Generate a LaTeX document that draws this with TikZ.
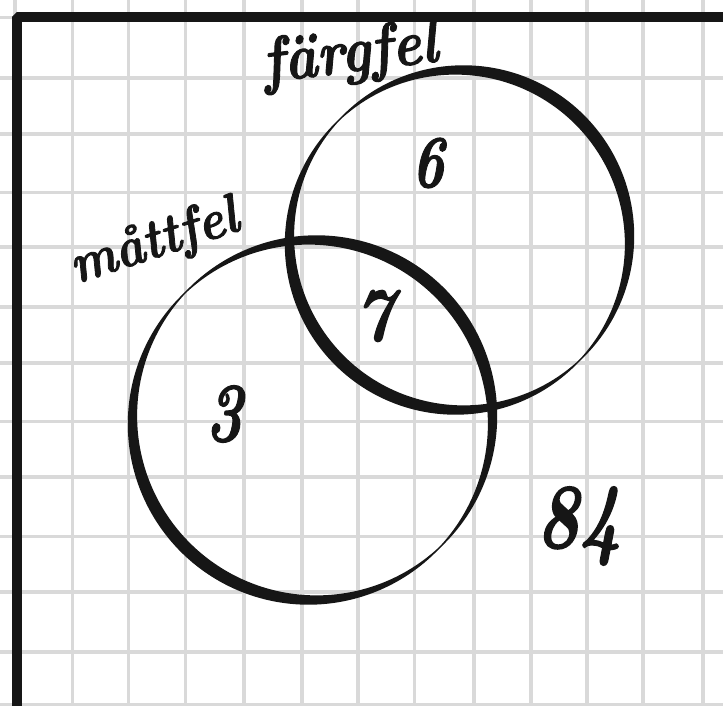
\documentclass[tikz,border=0pt]{standalone}
\usepackage{fontspec}
\newfontfamily\handfont[FakeBold=1.6]{lmroman10-bolditalic.otf}
\definecolor{ink}{HTML}{161616}
\definecolor{gridgray}{HTML}{D9D9D9}
\tikzset{
  gridline/.style={draw=gridgray, line width=3.2pt},
  border/.style={draw=ink, line width=9.5pt, line join=bevel},
  hand/.style={text=ink, inner sep=0pt},
}
\newcommand{\penwidth}[1]{(1.2+11.5*abs(sin(#1-45)))}
\begin{document}
\begin{tikzpicture}[x=1pt,y=-1pt]
\useasboundingbox (0,0) rectangle (723,706);
\fill[white] (0,0) rectangle (723,706);
% grid
\foreach \gx in {15,72.5,128.5,185.5,244,302,358,414.5,474,531,587,643,703}
  \draw[gridline] (\gx,0) -- (\gx,706);
\foreach \gy in {17.5,78,134,192.5,247,307,363,421.5,477,536.5,592,652,704.5}
  \draw[gridline] (0,\gy) -- (723,\gy);
% border
\coordinate (bl) at (17,706);
\coordinate (tl) at (17,17);
\coordinate (tr) at (723,17);
\draw[border] (bl) -- (tl) -- (tr);
% right circle (faergfel)
\begin{scope}[shift={(459.5,240)}]
\fill[ink, even odd rule]
  plot[domain=0:358, samples=180, smooth cycle] (\x:{170+0.5*\penwidth{\x}})
  plot[domain=0:358, samples=180, smooth cycle] (\x:{170-0.5*\penwidth{\x}});
\end{scope}
% left circle (maattfel)
\begin{scope}[shift={(312.5,420)}]
\fill[ink, even odd rule]
  plot[domain=0:358, samples=180, smooth cycle] (\x:{180+0.5*\penwidth{\x}})
  plot[domain=0:358, samples=180, smooth cycle] (\x:{180-0.5*\penwidth{\x}});
\end{scope}
% labels
\node[hand, anchor=base, rotate=18, xscale=0.88, font=\handfont\fontsize{56}{60}\selectfont] (lm) at (159,257) {måttfel};
\node[hand, anchor=base, rotate=7, xscale=0.86, font=\handfont\fontsize{64}{70}\selectfont] (lf) at (352,72) {färgfel};
% numbers
\node[hand, xscale=0.75, font=\handfont\fontsize{74}{80}\selectfont] (n6) at (428,163) {6};
\node[hand, xscale=0.85, font=\handfont\fontsize{76}{80}\selectfont] (n7) at (374,316) {7};
\node[hand, xscale=0.75, font=\handfont\fontsize{84}{90}\selectfont] (n3) at (224,414) {3};
\node[hand, xscale=0.78, font=\handfont\fontsize{92}{95}\selectfont] (n84) at (579,526) {84};
\end{tikzpicture}
\end{document}
